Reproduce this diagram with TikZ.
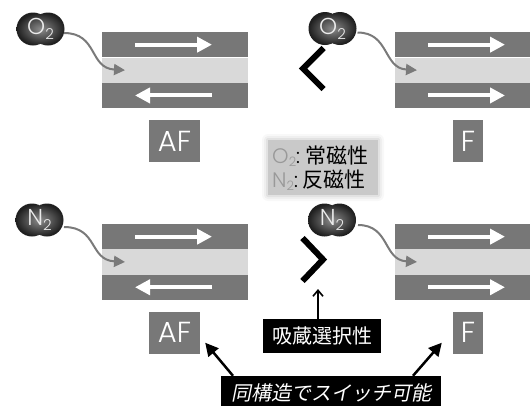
\documentclass[tikz,border=0pt]{standalone}
\usepackage{fontspec}
\usetikzlibrary{arrows.meta}
\newfontfamily\lat{Poppins Light}
\newfontfamily\jp{Noto Sans CJK JP}
\newfontfamily\jpit{Noto Sans CJK JP}[FakeSlant=0.2]
\definecolor{bandgray}{HTML}{777777}
\definecolor{lightband}{HTML}{D9D9D9}
\definecolor{boxgray}{HTML}{787878}
\definecolor{flowgray}{HTML}{7A7A7A}
\definecolor{legendgray}{HTML}{C9C9C9}
\definecolor{symgray}{HTML}{999999}
\newcommand\chem[2]{#1\raisebox{-5pt}{\fontsize{15pt}{15pt}\selectfont #2}}
\newcommand\legchem[2]{#1\raisebox{-3.5pt}{\fontsize{13pt}{13pt}\selectfont #2}}
\tikzset{
  darkband/.style={fill=bandgray, minimum width=146pt, minimum height=25.3pt,
    inner sep=0pt, outer sep=0pt, anchor=north west},
  lightlayer/.style={darkband, fill=lightband},
  spin/.style={draw=white, line width=4pt, -{Triangle[length=15pt,width=15pt]}},
  phase/.style={fill=boxgray, text=white, minimum height=42pt, inner sep=0pt,
    font=\lat\fontsize{29pt}{29pt}\selectfont},
  molshade/.style={inner color=black!45, outer color=black!88},
  moltext/.style={text=white!92!black, inner sep=0pt, font=\lat\fontsize{23pt}{23pt}\selectfont},
  flow/.style={draw=flowgray, line width=2pt, -{Triangle[length=11pt,width=11pt]}},
  chevron/.style={draw=black, line width=6pt, miter limit=10},
  tag/.style={fill=black, text=white, inner xsep=9pt, inner ysep=0pt, minimum height=34pt,
    font=\jp\fontsize{20pt}{20pt}\selectfont},
  pointer/.style={draw=black, line width=2.5pt, -{Triangle[length=13pt,width=13pt]}},
  riser/.style={draw=black, line width=1.6pt, -{Straight Barb[length=6pt,width=10pt]}},
}
\begin{document}
\begin{tikzpicture}[x=1pt,y=-1pt]
\useasboundingbox (0,0) rectangle (530,405);
\clip (0,0) rectangle (530,405);

% ---------- layered stacks ----------
% top left: antiparallel (AF)
\node[darkband]   (tlT) at (102,32) {};
\node[lightlayer] (tlM) at (102,57.5) {};
\node[darkband]   (tlB) at (102,82.8) {};
\draw[spin] ([xshift=33pt]tlT.west) -- ([xshift=110pt]tlT.west);
\draw[spin] ([xshift=110pt]tlB.west) -- ([xshift=33pt]tlB.west);
% top right: parallel (F)
\node[darkband]   (trT) at (395,32) {};
\node[lightlayer] (trM) at (395,57.5) {};
\node[darkband]   (trB) at (395,82.8) {};
\draw[spin] ([xshift=33pt]trT.west) -- ([xshift=110pt]trT.west);
\draw[spin] ([xshift=33pt]trB.west) -- ([xshift=110pt]trB.west);
% bottom left: antiparallel (AF)
\node[darkband]   (blT) at (102,224) {};
\node[lightlayer] (blM) at (102,249.3) {};
\node[darkband]   (blB) at (102,274.6) {};
\draw[spin] ([xshift=33pt]blT.west) -- ([xshift=110pt]blT.west);
\draw[spin] ([xshift=110pt]blB.west) -- ([xshift=33pt]blB.west);
% bottom right: parallel (F)
\node[darkband]   (brT) at (395,224) {};
\node[lightlayer] (brM) at (395,249.3) {};
\node[darkband]   (brB) at (395,274.6) {};
\draw[spin] ([xshift=33pt]brT.west) -- ([xshift=110pt]brT.west);
\draw[spin] ([xshift=33pt]brB.west) -- ([xshift=110pt]brB.west);

% ---------- phase labels ----------
\node[phase, minimum width=51pt] (afT) at (174.5,141) {AF};
\node[phase, minimum width=30pt] (fT)  at (468,141) {F};
\node[phase, minimum width=51pt] (afB) at (174.5,332.5) {AF};
\node[phase, minimum width=30pt] (fB)  at (468,332.5) {F};

% ---------- molecules ----------
\coordinate (mTL) at (40.5,29);
\coordinate (mTR) at (332.5,28.5);
\coordinate (mBL) at (39.5,220);
\coordinate (mBR) at (332,220);
\foreach \m in {mTL,mTR,mBL,mBR}
  \shade[molshade] ([xshift=-7.5pt]\m) circle (16.5) ([xshift=7.5pt]\m) circle (16.5);
\node[moltext] (o2a) at (mTL) {\chem{O}{2}};
\node[moltext] (o2b) at (mTR) {\chem{O}{2}};
\node[moltext] (n2a) at (mBL) {\chem{N}{2}};
\node[moltext] (n2b) at (mBR) {\chem{N}{2}};

% ---------- entry paths into the spacer ----------
\coordinate (o2aout) at ([xshift=23.5pt,yshift=-4pt]mTL);
\coordinate (o2bout) at ([xshift=25pt,yshift=-4pt]mTR);
\coordinate (n2aout) at ([xshift=24.5pt,yshift=-7pt]mBL);
\coordinate (n2bout) at ([xshift=26pt,yshift=-5pt]mBR);
\draw[flow] (o2aout) .. controls +(34,0) and +(-36,-2) .. ([xshift=23pt]tlM.west);
\draw[flow] (o2bout) .. controls +(32,0) and +(-34,-2) .. ([xshift=22pt]trM.west);
\draw[flow] (n2aout) .. controls +(34,0) and +(-36,-2) .. ([xshift=23pt]blM.west);
\draw[flow] (n2bout) .. controls +(32,0) and +(-34,-2) .. ([xshift=22pt]brM.west);

% ---------- inequality chevrons ----------
\draw[chevron] (323.5,48) -- (303,68.5) -- (323.5,89);
\draw[chevron] (302.5,238) -- (323,259.5) -- (302.5,281);
\coordinate (chevtip) at (318,289);

% ---------- legend ----------
\foreach \g/\o in {6/0.12,4/0.2,2/0.35,0/1}
  \fill[legendgray, opacity=\o, rounded corners=\g pt]
    (268-\g,140-\g) rectangle (378+\g,195+\g);
\node[align=left, inner sep=0pt, anchor=west, font=\fontsize{21pt}{24pt}\selectfont] (legend) at (272,168)
  {\textcolor{symgray}{\lat\legchem{O}{2}}\lat:\hspace{5pt}\jp 常磁性\\
   \textcolor{symgray}{\lat\legchem{N}{2}}\lat:\hspace{5pt}\jp 反磁性};

% ---------- annotations ----------
\node[tag] (select) at (322,336) {吸蔵選択性};
\draw[riser] ([xshift=-4pt]select.north) -- (chevtip);
\node[tag, font=\jpit\fontsize{20pt}{20pt}\selectfont, minimum height=33pt, inner xsep=10pt] (switch) at (331,392.5) {同構造でスイッチ可能};
\draw[pointer] ([xshift=-98pt]switch.north) -- ([xshift=5pt,yshift=11pt]afB.south east);
\draw[pointer] ([xshift=82pt]switch.north) -- ([xshift=-11pt,yshift=11pt]fB.south west);
\end{tikzpicture}
\end{document}
